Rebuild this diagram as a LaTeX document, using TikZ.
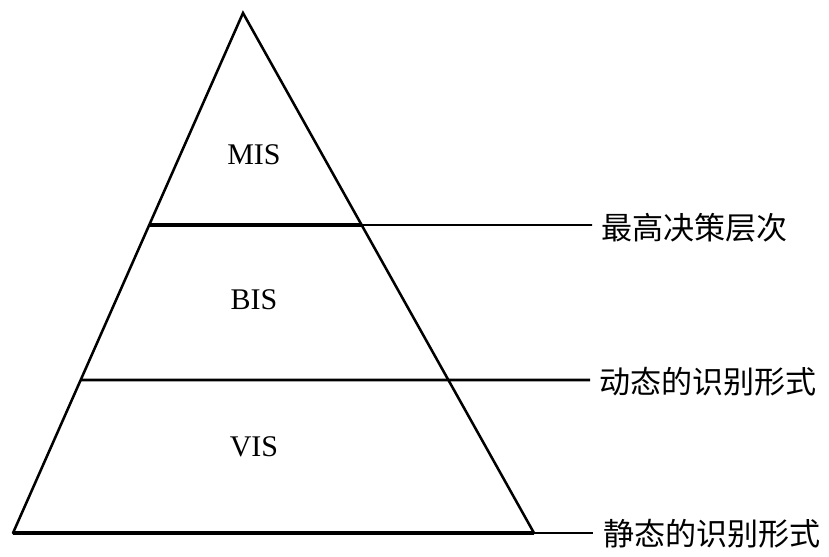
\documentclass[tikz,border=0pt]{standalone}
\usepackage{fontspec}
\setmainfont{Liberation Serif}
\newfontfamily\cjk{Noto Sans CJK SC}
\begin{document}
\begin{tikzpicture}[x=0.75pt,y=-0.75pt,
  edge/.style={line width=1.9pt,line cap=round,line join=miter},
  thickbar/.style={line width=3pt},
  midbar/.style={line width=2.1pt},
  leader/.style={line width=1.2pt},
  baseleader/.style={line width=1.7pt},
  lvl/.style={font=\fontsize{22.5pt}{24pt}\selectfont,inner sep=0pt},
  tag/.style={font=\cjk\fontsize{23.3pt}{25pt}\selectfont,inner sep=0pt,anchor=west}]
\useasboundingbox (0,0) rectangle (829,557);
% triangle corners
\coordinate (apex) at (243,13);
\coordinate (bl) at (13,533);
\coordinate (br) at (534,533);
% level lines
\path (apex) -- (bl) coordinate[pos=0.4077] (L1) coordinate[pos=0.7058] (L2);
\path (apex) -- (br) coordinate[pos=0.4077] (R1) coordinate[pos=0.7058] (R2);
\coordinate (E1) at (592,225);
\coordinate (E2) at (590,380);
\coordinate (E3) at (593,533);
% text
\node[lvl] (mis) at (254,155) {MIS};
\node[lvl] (bis) at (254,300) {BIS};
\node[lvl] (vis) at (254,447) {VIS};
\node[tag] (t1) at (601,228) {最高决策层次};
\node[tag] (t2) at (599,382) {动态的识别形式};
\node[tag] (t3) at (603,534) {静态的识别形式};
% drawing
\draw[thickbar] (L1) -- (R1);
\draw[leader] (R1) -- (E1);
\draw[midbar] (L2) -- (R2) -- (E2);
\draw[thickbar] (bl) -- (br);
\draw[baseleader] (br) -- (E3);
\draw[edge] (bl) -- (apex) -- (br);
\end{tikzpicture}
\end{document}
